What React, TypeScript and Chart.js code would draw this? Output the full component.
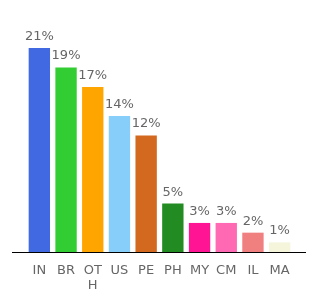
import React, { useEffect, useRef } from "react";
import { Chart, registerables } from "chart.js";

Chart.register(...registerables);

const categories: (string | string[])[] = ["IN", "BR", ["OT", "H"], "US", "PE", "PH", "MY", "CM", "IL", "MA"];
const values = [21, 19, 17, 14, 12, 5, 3, 3, 2, 1];
const valueLabels = ["21%", "19%", "17%", "14%", "12%", "5%", "3%", "3%", "2%", "1%"];
const colors = [
  "#4169e1", "#32cd32", "#ffa500", "#87cefa", "#d2691e",
  "#228b22", "#ff1493", "#ff69b4", "#f08080", "#f5f5dc",
];

const FONT = "'DejaVu Sans', Verdana, sans-serif";

const labelPlugin = {
  id: "valueLabels",
  afterDatasetsDraw(chart: any) {
    const ctx = chart.ctx;
    const meta = chart.getDatasetMeta(0);
    ctx.save();
    ctx.font = `13px ${FONT}`;
    ctx.fillStyle = "#666666";
    ctx.textAlign = "center";
    ctx.textBaseline = "alphabetic";
    meta.data.forEach((bar: any, i: number) => {
      ctx.fillText(valueLabels[i], bar.x, bar.y - 8);
    });
    ctx.restore();
  },
};

const baselinePlugin = {
  id: "baseline",
  afterDatasetsDraw(chart: any) {
    const ctx = chart.ctx;
    const y = chart.chartArea.bottom;
    ctx.save();
    ctx.strokeStyle = "#000000";
    ctx.lineWidth = 1;
    ctx.beginPath();
    ctx.moveTo(12, Math.round(y) + 0.5);
    ctx.lineTo(306, Math.round(y) + 0.5);
    ctx.stroke();
    ctx.restore();
  },
};

export default function App() {
  const ref = useRef<HTMLCanvasElement>(null);
  useEffect(() => {
    const chart = new Chart(ref.current!, {
      type: "bar",
      data: {
        labels: categories as any,
        datasets: [
          {
            data: values,
            backgroundColor: colors,
            barPercentage: 1,
            categoryPercentage: 0.8,
          },
        ],
      },
      options: {
        animation: false,
        responsive: false,
        maintainAspectRatio: false,
        layout: { padding: { left: 26, right: 27, top: 48, bottom: 4 } },
        plugins: { legend: { display: false }, tooltip: { enabled: false } },
        scales: {
          x: {
            grid: { display: false },
            border: { display: false },
            ticks: {
              color: "#666666",
              font: { size: 13, family: FONT, lineHeight: 1.15 },
              padding: 3,
              maxRotation: 0,
              autoSkip: false,
            },
          },
          y: {
            display: false,
            min: 0,
            max: 21,
          },
        },
      },
      plugins: [labelPlugin, baselinePlugin],
    });
    return () => chart.destroy();
  }, []);
  return (
    <div style={{ position: "absolute", left: 0, top: 0, width: 320, height: 300, background: "#fff" }}>
      <canvas ref={ref} width={320} height={300} />
    </div>
  );
}
